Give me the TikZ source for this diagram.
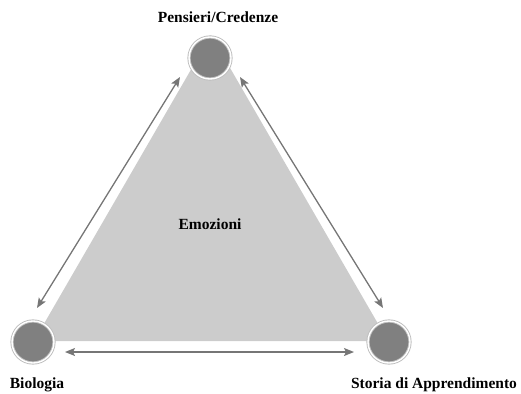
\documentclass[tikz,border=0pt]{standalone}
\usepackage{fontspec}
\setmainfont{Liberation Serif}
\usepackage{tikz}
\usetikzlibrary{arrows,arrows.meta,positioning}

\definecolor{trigray}{RGB}{204,204,204}
\definecolor{dotgray}{RGB}{128,128,128}
\definecolor{ringgray}{RGB}{190,190,190}
\definecolor{arrgray}{RGB}{118,118,118}

\tikzset{
  dotc/.style={circle, minimum size=42pt, inner sep=0pt, fill=dotgray, draw=ringgray, line width=0.9pt, double=white, double distance=1.4pt},
  lab/.style={font=\fontsize{15.5}{18}\selectfont\bfseries, text=black, inner sep=0pt},
  twoway/.style={{Stealth[length=10pt,width=8pt,inset=2pt]}-{Stealth[length=10pt,width=8pt,inset=2pt]}, draw=arrgray, fill=arrgray, line width=1.3pt}
}

\begin{document}
\begin{tikzpicture}[x=1pt,y=-1pt]
\useasboundingbox (0,0) rectangle (521,393);

\fill[trigray] (211,35) -- (34,341) -- (388,341) -- cycle; % triangle

	\node[dotc] (pens) at (210,58) {};% top
	\node[dotc] (bio) at (33,342) {};% bottom left
	\node[dotc] (storia) at (389,342) {};% bottom right

\coordinate (l1) at (180,77);
\coordinate (l2) at (37,308);
\coordinate (r1) at (240,77);
\coordinate (r2) at (383,308);
\coordinate (b1) at (65,352);
\coordinate (b2) at (354,352);

\draw[twoway] (l1) -- (l2); % left
\draw[twoway] (r1) -- (r2); % right
\draw[twoway] (b1) -- (b2); % bottom

  \node[lab, above=14pt of pens, xshift=8pt] (pensl) {Pensieri/Credenze};
  \node[lab, below=14pt of bio, xshift=4pt] (biol) {Biologia};
  \node[lab, below=14pt of storia, xshift=45pt] (storial) {Storia di Apprendimento};
  \node[lab] (emo) at (210,224) {Emozioni};

\end{tikzpicture}
\end{document}
